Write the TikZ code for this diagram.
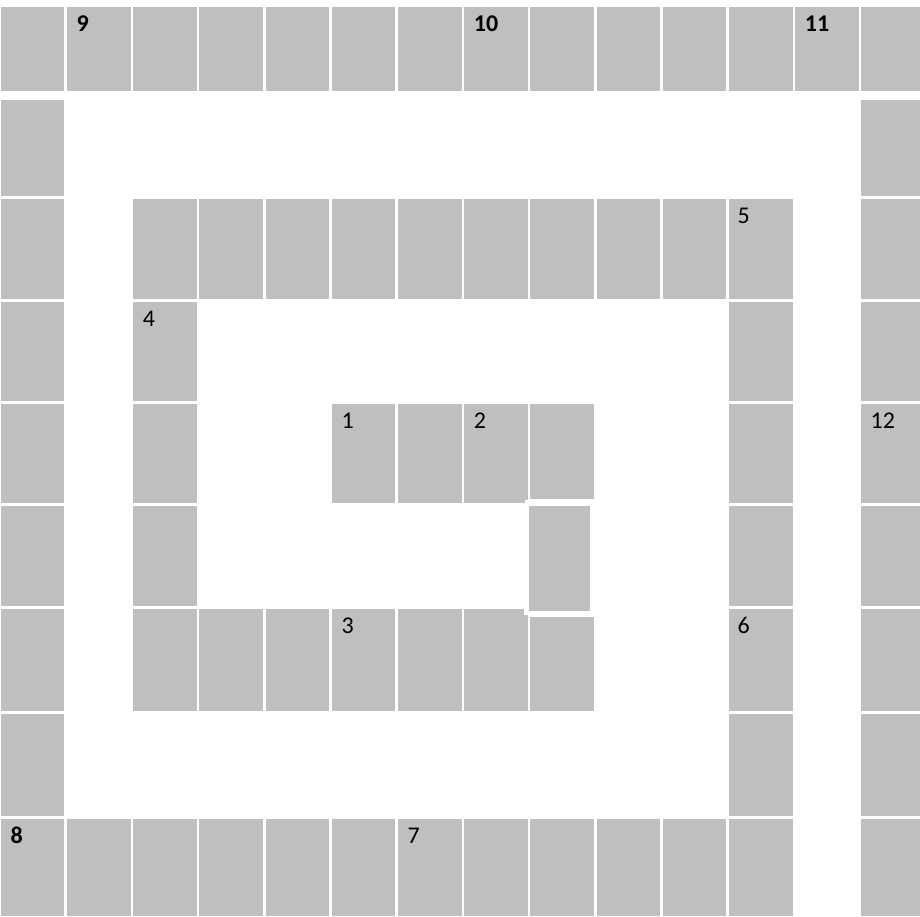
\documentclass[tikz,border=0pt]{standalone}
\usepackage{fontspec}
\setmainfont{Carlito}
\definecolor{cellgrey}{HTML}{BFBFBF}
\def\rowtops{{7,100,199,302,404,505.7,609,713.7,818.7}}
\def\rowbots{{91,196,299,401,502.7,606,710.7,815.7,916}}
\newcommand\gcell[2]{%
  \pgfmathsetmacro\gxa{0.8+66.2*#2}%
  \pgfmathsetmacro\gxb{min(\gxa+63.6,920)}%
  \pgfmathsetmacro\gya{\rowtops[#1-1]}%
  \pgfmathsetmacro\gyb{\rowbots[#1-1]}%
  \pgfmathsetmacro\gw{\gxb-\gxa}%
  \pgfmathsetmacro\gh{\gyb-\gya}%
  \node[cell, minimum width=\gw pt, minimum height=\gh pt] (c#1-#2) at ({(\gxa+\gxb)/2},{(\gya+\gyb)/2}) {};%
}
\newcommand\xcell[5]{% name, x1, y1, x2, y2
  \node[cell, minimum width={(#4-#2)*1pt}, minimum height={(#5-#3)*1pt}] (#1) at ({(#2+#4)/2},{(#3+#5)/2}) {};%
}
\begin{document}
\begin{tikzpicture}[x=1pt,y=-1pt,
  cell/.style={rectangle, fill=cellgrey, draw=none, inner sep=0pt, outer sep=0pt},
  lbl/.style={anchor=base west, inner sep=0pt, font=\fontsize{24}{28}\selectfont},
  blbl/.style={anchor=base west, inner sep=0pt, font=\fontsize{24}{28}\selectfont\bfseries}]
\useasboundingbox[fill=white] (0,0) rectangle (920,916);
% row 1
\foreach \c in {0,...,13} {\gcell{1}{\c}}
% row 2
\foreach \c in {0,13} {\gcell{2}{\c}}
% row 3
\foreach \c in {0,2,3,4,5,6,7,8,9,10,11,13} {\gcell{3}{\c}}
% row 4
\foreach \c in {0,2,11,13} {\gcell{4}{\c}}
% row 5
\foreach \c in {0,2,5,6,7,11,13} {\gcell{5}{\c}}
% row 6
\foreach \c in {0,2,11,13} {\gcell{6}{\c}}
% row 7
\foreach \c in {0,2,3,4,5,6,7,11,13} {\gcell{7}{\c}}
% row 8
\foreach \c in {0,11,13} {\gcell{8}{\c}}
% row 9
\foreach \c in {0,1,2,3,4,5,6,7,8,9,10,11,13} {\gcell{9}{\c}}
% irregular cells of column 8
\xcell{c5-8}{529.7}{404}{593.7}{499}
\xcell{c6-8}{529}{505.7}{590}{611}
\xcell{c7-8}{530}{617}{593.7}{710.7}
\fill[white] (524.5,500) rectangle (527.6,503);
\fill[white] (524,609) rectangle (527.6,615);
% labels
\node[blbl] (l9) at ([xshift=9.5pt,yshift=-24.5pt]c1-1.north west) {9};
\node[blbl] (l10) at ([xshift=9.5pt,yshift=-24.5pt]c1-7.north west) {10};
\node[blbl] (l11) at ([xshift=9.5pt,yshift=-24.5pt]c1-12.north west) {11};
\node[lbl] (l5) at ([xshift=8.5pt,yshift=-24.5pt]c3-11.north west) {5};
\node[lbl] (l4) at ([xshift=9.5pt,yshift=-24.5pt]c4-2.north west) {4};
\node[lbl] (l1) at ([xshift=9.5pt,yshift=-24.5pt]c5-5.north west) {1};
\node[lbl] (l2) at ([xshift=9.5pt,yshift=-24.5pt]c5-7.north west) {2};
\node[lbl] (l12) at ([xshift=9pt,yshift=-24.5pt]c5-13.north west) {12};
\node[lbl] (l3) at ([xshift=9.5pt,yshift=-24.5pt]c7-5.north west) {3};
\node[lbl] (l6) at ([xshift=8.5pt,yshift=-24.5pt]c7-11.north west) {6};
\node[blbl] (l8) at ([xshift=9.5pt,yshift=-24.5pt]c9-0.north west) {8};
\node[lbl] (l7) at ([xshift=9.5pt,yshift=-24.5pt]c9-6.north west) {7};
\end{tikzpicture}
\end{document}
